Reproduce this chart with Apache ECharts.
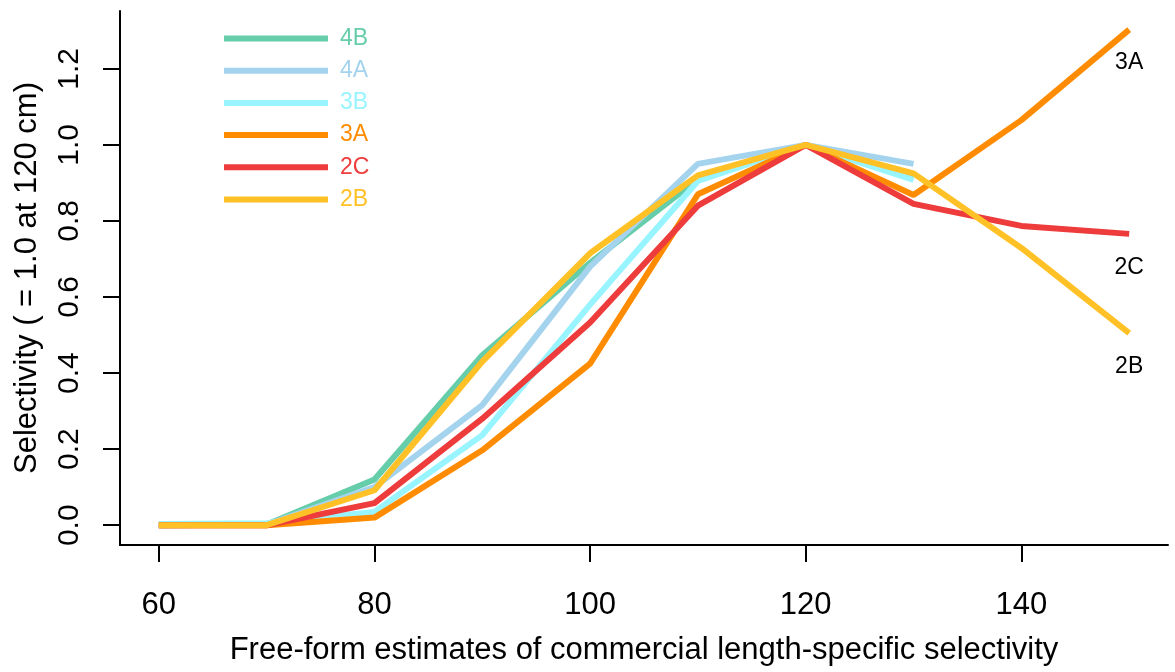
<!DOCTYPE html>
<html>
<head>
<meta charset="utf-8">
<script src="https://cdn.jsdelivr.net/npm/echarts@6/dist/echarts.min.js"></script>
<style>
html, body { margin: 0; padding: 0; background: #fff; }
#main { width: 1175px; height: 672px; }
</style>
</head>
<body>
<div id="main"></div>
<script>
// lengths (cm)
var lengths = [60, 70, 80, 90, 100, 110, 120, 130, 140, 150];
var xTicks = [60, 80, 100, 120, 140];
var yTicks = [0, 0.2, 0.4, 0.6, 0.8, 1.0, 1.2];

// selectivity per area (4B, 4A, 3B stop at 130)
var sel4B = [0, 0.002, 0.12, 0.447, 0.69, 0.91, 1, 0.915];
var sel4A = [0, 0.002, 0.10, 0.316, 0.68, 0.95, 1, 0.95];
var sel3B = [0.003, 0.005, 0.035, 0.237, 0.58, 0.905, 1, 0.908];
var sel3A = [0, 0, 0.02, 0.197, 0.425, 0.87, 1, 0.868, 1.065, 1.303];
var sel2C = [0, 0, 0.058, 0.28, 0.533, 0.84, 1, 0.845, 0.787, 0.766];
var sel2B = [0, 0, 0.092, 0.43, 0.715, 0.92, 1, 0.925, 0.729, 0.505];

var names = ['4B', '4A', '3B', '3A', '2C', '2B'];
var colors = ['#66CDAA', '#A4D3EE', '#98F5FF', '#FF8C00', '#EE3B3B', '#FFC125'];
var values = [sel4B, sel4A, sel3B, sel3A, sel2C, sel2B];
var endLabels = { '3A': true, '2C': true, '2B': true };

var FONT = '"Liberation Sans", Arial, sans-serif';

function make_series(i) {
	var vals = values[i];
	var data = [];
	for(var j = 0; j < vals.length; j++) {
		var item = { value: [lengths[j], vals[j]] };
		if(j == vals.length - 1 && endLabels[names[i]]) { //线尾标签
			item.label = {
				show: true,
				position: 'bottom',
				distance: 22,
				formatter: names[i],
				color: '#000',
				fontSize: 23,
				fontFamily: FONT
			};
		}
		data.push(item);
	}
	return {
		name: names[i],
		type: 'line',
		data: data,
		showSymbol: true,
		symbol: 'circle',
		symbolSize: 0,
		color: colors[i],
		lineStyle: { width: 6, color: colors[i] },
		emphasis: { disabled: true },
		z: 2 + i
	};
}

var series = [];
var legendData = [];
for(var i = 0; i < names.length; i++) {
	series.push(make_series(i));
	legendData.push({
		name: names[i],
		textStyle: { color: colors[i], fontSize: 23, fontFamily: FONT, padding: [7, 0, 0, 7] }
	});
}

var chart = echarts.init(document.getElementById('main'), null, { renderer: 'canvas' });
var option = {
	backgroundColor: '#fff',
	animation: false,
	textStyle: { fontFamily: FONT },
	grid: {
		left: 120,
		right: 7,
		top: 11,
		bottom: 127,
		containLabel: false,
		outerBoundsMode: 'none'
	},
	legend: {
		orient: 'vertical',
		left: 224,
		top: 27,
		padding: 0,
		itemGap: 9.2,
		itemWidth: 104,
		itemHeight: 6,
		icon: 'rect',
		selectedMode: false,
		textStyle: { fontSize: 23, fontFamily: FONT, padding: [7, 0, 0, 7] },
		data: legendData
	},
	xAxis: {
		type: 'value',
		min: 56.4,
		max: 153.6,
		name: 'Free-form estimates of commercial length-specific selectivity',
		nameLocation: 'middle',
		nameGap: 90,
		nameTextStyle: { fontSize: 31, color: '#000', fontFamily: FONT },
		axisLine: { show: true, onZero: false, lineStyle: { color: '#000', width: 2 } },
		axisTick: { show: true, length: 17, customValues: xTicks, lineStyle: { color: '#000', width: 2 } },
		axisLabel: { customValues: xTicks, margin: 45, fontSize: 31, color: '#000', fontFamily: FONT },
		splitLine: { show: false }
	},
	yAxis: {
		type: 'value',
		min: -0.052,
		max: 1.352,
		name: 'Selectivity ( = 1.0 at 120 cm)',
		nameLocation: 'middle',
		nameGap: 77,
		nameRotate: 90,
		nameTextStyle: { fontSize: 31, color: '#000', fontFamily: FONT },
		axisLine: { show: true, onZero: false, lineStyle: { color: '#000', width: 2 } },
		axisTick: { show: true, length: 17, customValues: yTicks, lineStyle: { color: '#000', width: 2 } },
		axisLabel: {
			customValues: yTicks,
			rotate: 90,
			margin: 35,
			fontSize: 30,
			color: '#000',
			fontFamily: FONT,
			formatter: function(v) { return v.toFixed(1); }
		},
		splitLine: { show: false }
	},
	series: series
};
chart.setOption(option);
</script>
</body>
</html>
